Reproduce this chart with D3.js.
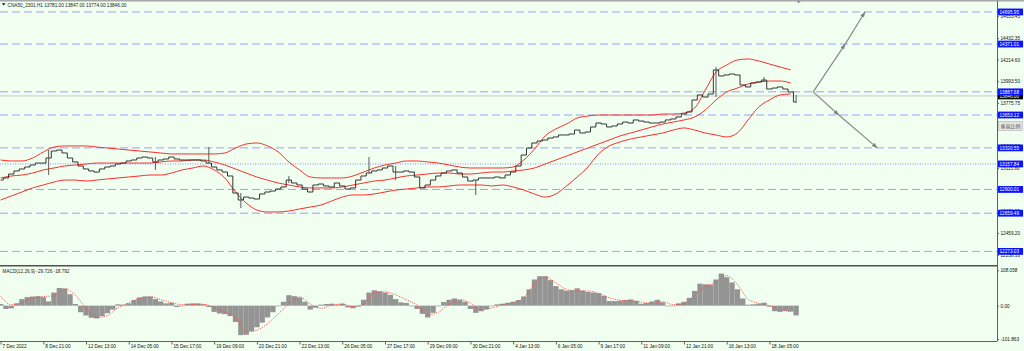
<!DOCTYPE html>
<html>
<head>
<meta charset="utf-8" />
<title>CNA50_2301,H1</title>
<script src="https://d3js.org/d3.v7.min.js"></script>
<style>
  body { margin: 0; background: #ffffff; }
  svg text { font-family: "Liberation Sans", Arial, sans-serif; }
</style>
</head>
<body>
<svg width="1024" height="351"></svg>
<script>
// one point = 4 hourly bars, time labels every 8 points
var timeLabels = ["7 Dec 2022","8 Dec 21:00","12 Dec 13:00","14 Dec 05:00","15 Dec 17:00","19 Dec 09:00",
  "20 Dec 21:00","22 Dec 13:00","26 Dec 05:00","27 Dec 17:00","29 Dec 09:00","30 Dec 21:00",
  "4 Jan 13:00","6 Jan 05:00","9 Jan 17:00","11 Jan 09:00","12 Jan 21:00","16 Jan 13:00","18 Jan 05:00"];

var closes = [12995,13016,13056,13087,13107,13127,13147,13167,13167,13218,
  13289,13299,13269,13218,13178,13137,13107,13087,13076,13107,
  13127,13137,13157,13167,13188,13198,13218,13228,13218,13178,
  13198,13208,13228,13208,13198,13198,13198,13198,13188,13167,
  13127,13097,13076,13036,12864,12793,12823,12813,12803,12854,
  12874,12884,12904,12925,12995,12965,12945,12904,12874,12945,
  12955,12935,12925,12965,12935,12904,12915,12995,13036,13066,
  13087,13097,13117,13137,13076,13076,13087,13076,13026,12915,
  12945,12995,13036,13066,13087,13097,13066,13026,12985,12995,
  13016,13016,13016,13026,13016,13046,13076,13137,13248,13319,
  13370,13390,13400,13420,13431,13451,13451,13461,13501,13471,
  13481,13532,13572,13562,13532,13542,13562,13582,13572,13603,
  13592,13582,13572,13572,13582,13603,13613,13633,13663,13684,
  13805,13856,13835,13866,14109,14048,14058,14068,14058,13957,
  13937,13977,13987,14007,13916,13926,13937,13916,13886,13785];

// [point, high, low] for the long wicks
var wicks = [[9,13299,13046],[29,13228,13097],[39,13329,13167],[45,12864,12712],[54,13036,12965],
  [69,13228,13066],[74,13137,12995],[89,12995,12844],[134,14139,13835],[143,14038,13987],[149,13856,13775]];

// bollinger bands, every 2nd point
var bbUpper = [13198,13188,13188,13218,13279,13329,13340,13340,13340,13329,
  13319,13309,13299,13289,13279,13269,13259,13259,13259,13259,
  13259,13269,13319,13360,13370,13340,13279,13178,13097,13026,
  13016,13016,13016,13036,13076,13117,13147,13167,13188,13188,
  13178,13167,13147,13127,13117,13117,13117,13117,13127,13198,
  13309,13441,13512,13562,13623,13643,13653,13653,13653,13653,
  13653,13653,13663,13663,13673,13724,13906,14088,14159,14210,
  14220,14200,14169,14139,14109];
var bbMiddle = [13016,13036,13046,13066,13097,13117,13137,13147,13157,13167,
  13167,13167,13167,13167,13167,13178,13188,13188,13198,13198,
  13178,13147,13107,13066,13026,12995,12965,12945,12925,12915,
  12915,12915,12925,12945,12965,12985,12995,13016,13036,13046,
  13056,13066,13066,13056,13056,13066,13076,13076,13087,13097,
  13117,13157,13198,13238,13279,13319,13360,13400,13441,13471,
  13501,13532,13562,13582,13603,13633,13704,13805,13886,13926,
  13967,13987,13997,13997,13977];
var bbLower = [12793,12834,12874,12915,12945,12975,12995,12995,12985,12995,
  13006,13016,13026,13036,13046,13046,13066,13097,13117,13137,
  13097,13016,12874,12763,12692,12672,12672,12682,12702,12722,
  12742,12783,12823,12844,12844,12854,12874,12894,12904,12915,
  12925,12925,12935,12945,12945,12945,12935,12945,12925,12894,
  12854,12823,12854,12935,13026,13127,13259,13340,13380,13410,
  13431,13451,13471,13501,13522,13501,13471,13451,13431,13471,
  13603,13734,13805,13856,13866];

var macdMain = [5,-10,-8,7,20,26,28,29,26,13,
  40,54,52,35,5,-20,-30,-37,-39,-32,
  -23,-12,4,3,7,17,25,28,28,20,
  13,7,9,-4,-2,6,7,7,4,-4,
  -19,-24,-26,-32,-50,-90,-89,-78,-66,-52,
  -36,-20,-2,12,32,29,25,12,-12,-6,
  3,5,6,3,6,-5,-8,-3,18,40,
  47,44,40,33,20,10,8,0,-10,-25,
  -36,-22,-2,11,18,22,17,12,-10,-22,
  -17,-11,0,4,6,9,12,17,28,50,
  80,90,90,78,60,50,46,47,53,46,
  42,40,38,30,14,14,15,17,19,15,
  6,8,13,18,10,0,-1,7,12,24,
  45,67,65,64,80,98,87,71,50,22,
  3,4,6,9,-3,-17,-19,-16,-18,-29.7];
// signal, every 2nd point
var macdSignal = [30,3,10,23,28,30,52,32,-8,-36,
  -30,-6,8,22,27,19,9,3,4,4,
  -5,-20,-35,-80,-75,-55,-25,5,27,5,
  -8,1,5,-3,5,38,42,33,18,2,
  -28,-20,5,19,8,-13,-7,3,9,25,
  65,88,70,50,45,45,38,24,17,15,
  11,7,12,3,5,30,60,70,92,65,
  20,7,0,-12,-18.8];

var levelPrices = ["14695.95","14371.01","13887.68","13653.12","13320.55","13157.84","12900.01","12659.49","12273.03"];
var dottedLevel = "13157.84";
var priceTicks = ["14653.45","14432.35","14214.60","13993.50","13775.75","13554.65","13336.90","13115.80",
  "12898.05","12676.95","12459.20","12238.10"];
var macdTicks = ["108.058","0.00","-101.863"];
var bidPrice = "13846.00";

// projection arrows: [point, price]
var arrowUp = [[152.2,13887.68],[158.2,14371.01],[161.9,14695.95]];
var arrowDown = [[152.2,13887.68],[157.0,13653.12],[164.2,13320.55]];

const svg = d3.select('svg');
const width = +svg.attr('width');
const height = +svg.attr('height');
const axisX = 997;

const render = () => {

  svg.append('rect').attr('width', width).attr('height', height).attr('fill', '#f0fff0');

  const xscale = d3.scaleLinear().domain([0, 144]).range([0.6, 769.4]);
  const yscale = d3.scaleLinear().domain([12459.20, 14432.35]).range([233, 38]);
  const mscale = d3.scaleLinear().domain([-101.863, 108.058]).range([339, 270.3]);
  const step = xscale(1) - xscale(0);

  const defs = svg.append('defs');
  defs.append('clipPath').attr('id', 'mainclip').append('rect')
      .attr('x', 0).attr('y', 2).attr('width', axisX).attr('height', 263);
  defs.append('clipPath').attr('id', 'macdclip').append('rect')
      .attr('x', 0).attr('y', 267).attr('width', axisX).attr('height', 74);
  defs.append('marker').attr('id', 'arr').attr('viewBox', '0 0 10 10')
      .attr('refX', 9).attr('refY', 5).attr('markerWidth', 5).attr('markerHeight', 5)
      .attr('orient', 'auto')
    .append('path').attr('d', 'M0,1.5L10,5L0,8.5Z').attr('fill', '#808080');

  const g = svg.append('g').attr('clip-path', 'url(#mainclip)');

  // horizontal levels
  g.selectAll('line.level').data(levelPrices).enter().append('line')
      .attr('class', 'level')
      .attr('x1', 0).attr('x2', axisX)
      .attr('y1', d => yscale(+d)).attr('y2', d => yscale(+d))
      .attr('stroke', d => d === dottedLevel ? '#8a8cff' : '#97a2ff')
      .attr('stroke-width', 1)
      .attr('stroke-dasharray', d => d === dottedLevel ? '1,1.5' : '8,4');

  // bid line
  g.append('line').attr('x1', 0).attr('x2', axisX)
      .attr('y1', yscale(+bidPrice)).attr('y2', yscale(+bidPrice))
      .attr('stroke', '#c8c8c8').attr('stroke-width', 1);

  // bollinger bands
  const band = d3.line().x((d, k) => xscale(k * 2)).y(d => yscale(d)).curve(d3.curveMonotoneX);
  [bbUpper, bbMiddle, bbLower].forEach(b => {
    g.append('path').attr('d', band(b)).attr('fill', 'none')
        .attr('stroke', '#ff2d2d').attr('stroke-width', 1);
  });

  // price bars
  const priceLine = d3.line().x((d, i) => xscale(i)).y(d => yscale(d)).curve(d3.curveStep);
  g.append('path').attr('d', priceLine(closes)).attr('fill', 'none')
      .attr('stroke', '#2b2b2b').attr('stroke-width', 0.95);
  g.selectAll('line.wick').data(wicks).enter().append('line')
      .attr('class', 'wick')
      .attr('x1', d => xscale(d[0])).attr('x2', d => xscale(d[0]))
      .attr('y1', d => yscale(d[1])).attr('y2', d => yscale(d[2]))
      .attr('stroke', '#4a4a4a').attr('stroke-width', 0.9);

  // arrows
  [arrowUp, arrowDown].forEach(a => {
    d3.pairs(a).forEach(p => {
      g.append('line')
          .attr('x1', xscale(p[0][0])).attr('y1', yscale(p[0][1]))
          .attr('x2', xscale(p[1][0])).attr('y2', yscale(p[1][1]))
          .attr('stroke', '#8a8a8a').attr('stroke-width', 1.2)
          .attr('marker-end', 'url(#arr)');
    });
  });

  // MACD panel
  const m = svg.append('g').attr('clip-path', 'url(#macdclip)');
  m.selectAll('rect').data(macdMain).enter().append('rect')
      .attr('x', (d, i) => xscale(i) - step / 2)
      .attr('width', step)
      .attr('y', d => Math.min(mscale(d), mscale(0)))
      .attr('height', d => Math.max(0.6, Math.abs(mscale(d) - mscale(0))))
      .attr('fill', '#949494');
  const sig = d3.line().x((d, k) => xscale(k * 2)).y(d => mscale(d)).curve(d3.curveMonotoneX);
  m.append('path').attr('d', sig(macdSignal)).attr('fill', 'none')
      .attr('stroke', '#ff4a4a').attr('stroke-width', 0.9).attr('stroke-dasharray', '1.2,1.2');

  // frame
  svg.append('line').attr('x1', 0).attr('x2', width).attr('y1', 0.8).attr('y2', 0.8)
      .attr('stroke', '#a8a8a8').attr('stroke-width', 1.6);
  svg.append('line').attr('x1', 0).attr('x2', axisX).attr('y1', 265.8).attr('y2', 265.8)
      .attr('stroke', '#505050').attr('stroke-width', 1.6);
  svg.append('line').attr('x1', 0).attr('x2', axisX).attr('y1', 341.5).attr('y2', 341.5)
      .attr('stroke', '#606060').attr('stroke-width', 1);
  svg.append('line').attr('x1', axisX + 0.5).attr('x2', axisX + 0.5).attr('y1', 1).attr('y2', 341.5)
      .attr('stroke', '#606060').attr('stroke-width', 1);
  svg.append('path')
      .attr('d', d3.line()([[xscale(149) + 0.5, 1], [xscale(149) + 4.5, 1], [xscale(149) + 2.5, 3.5]]) + 'Z')
      .attr('fill', '#909090');

  // price axis
  const yaxisG = svg.append('g').attr('transform', 'translate(' + axisX + ',0)')
      .call(d3.axisRight(yscale).tickValues(priceTicks.map(Number))
        .tickFormat((d, i) => priceTicks[i]).tickSize(2).tickPadding(1.5));
  yaxisG.select('.domain').remove();
  yaxisG.selectAll('text').attr('font-size', 4.7).attr('fill', '#111')
      .attr('font-family', '"Liberation Sans", Arial, sans-serif');
  yaxisG.selectAll('line').attr('stroke', '#606060');

  // vertical scale button
  svg.append('rect').attr('x', 998.5).attr('y', 121.5).attr('width', 24).attr('height', 9)
      .attr('fill', '#e4e4e4').attr('stroke', '#b0b0b0').attr('stroke-width', 0.6);
  svg.append('text').attr('x', 1010.5).attr('y', 128.4).attr('text-anchor', 'middle')
      .attr('font-size', 5).attr('fill', '#555')
      .style('font-family', '"Noto Sans CJK SC", sans-serif')
      .text('垂直比例');

  // bid label (black) then level labels (blue)
  const bidY = yscale(+bidPrice);
  svg.append('rect').attr('x', 998).attr('y', bidY - 3.4).attr('width', 25).attr('height', 6.8).attr('fill', '#000');
  svg.append('text').attr('x', 999.5).attr('y', bidY + 1.7).attr('font-size', 4.7).attr('fill', '#fff').text(bidPrice);

  const lab = svg.selectAll('g.lab').data(levelPrices).enter().append('g').attr('class', 'lab')
      .attr('transform', d => 'translate(998,' + yscale(+d) + ')');
  lab.append('rect').attr('x', 0).attr('y', -3.4).attr('width', 25).attr('height', 6.8).attr('fill', '#0a14ff');
  lab.append('text').attr('x', 1.5).attr('y', 1.7).attr('font-size', 4.7).attr('fill', '#fff').text(d => d);

  // MACD axis
  const maxisG = svg.append('g').attr('transform', 'translate(' + axisX + ',0)')
      .call(d3.axisRight(mscale).tickValues(macdTicks.map(Number))
        .tickFormat((d, i) => macdTicks[i]).tickSize(2).tickPadding(1.5));
  maxisG.select('.domain').remove();
  maxisG.selectAll('text').attr('font-size', 4.7).attr('fill', '#111')
      .attr('font-family', '"Liberation Sans", Arial, sans-serif');
  maxisG.selectAll('line').attr('stroke', '#606060');

  // time axis
  const xaxisG = svg.append('g').attr('transform', 'translate(0,341.5)')
      .call(d3.axisBottom(xscale).tickValues(timeLabels.map((d, k) => k * 8))
        .tickFormat((d, k) => timeLabels[k]).tickSize(3));
  xaxisG.select('.domain').remove();
  xaxisG.selectAll('line').attr('stroke', '#606060');
  xaxisG.selectAll('text').attr('font-size', 4.7).attr('fill', '#111')
      .attr('text-anchor', 'start').attr('x', 1.5).attr('y', 3.2).attr('dy', '0.71em')
      .attr('font-family', '"Liberation Sans", Arial, sans-serif');

  // titles
  svg.append('path').attr('d', 'M2,3.2L5.4,3.2L3.7,5.6Z').attr('fill', '#000');
  svg.append('text').attr('x', 7.5).attr('y', 6.6).attr('font-size', 4.7).attr('fill', '#222')
      .text('CNA50_2301,H1  13781.00 13847.00 13774.00 13846.00');
  svg.append('text').attr('x', 2.5).attr('y', 273).attr('font-size', 4.7).attr('fill', '#222')
      .text('MACD(12,26,9) -29.726 -18.792');
};

render();
</script>
</body>
</html>
